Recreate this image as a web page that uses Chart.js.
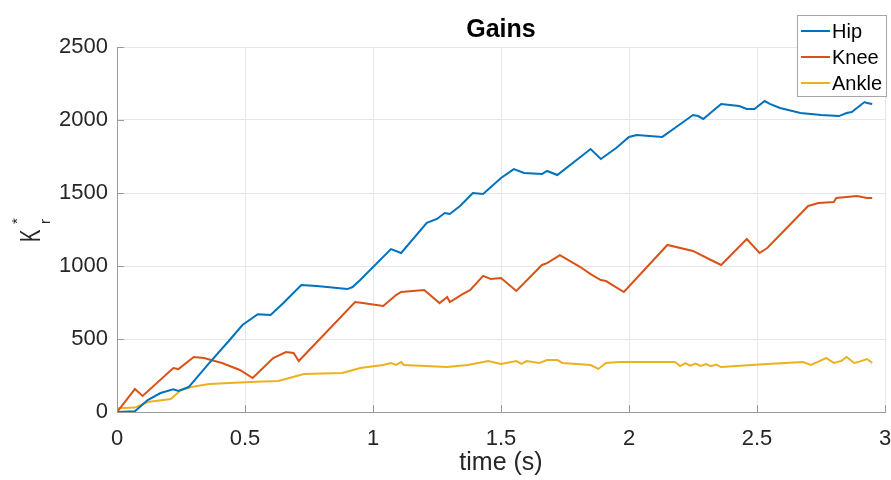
<!DOCTYPE html>
<html>
<head>
<meta charset="utf-8">
<script src="https://cdn.jsdelivr.net/npm/chart.js@4/dist/chart.umd.min.js"></script>
<style>
  html, body { margin: 0; padding: 0; background: #fff; overflow: hidden; }
  #wrap { width: 891px; height: 480px; position: relative; }
  #chart { display: block; }
</style>
</head>
<body>
<div id="wrap"><canvas id="chart"></canvas></div>
<script>
const titleText = 'Gains';
const xLabel = 'time (s)';
const xTicks = [0, 0.5, 1, 1.5, 2, 2.5, 3];
const yTicks = [0, 500, 1000, 1500, 2000, 2500];
const seriesNames = ['Hip', 'Knee', 'Ankle'];

const hipT = [0, 0.07, 0.12, 0.17, 0.22, 0.24, 0.28, 0.36, 0.44, 0.49, 0.55, 0.60, 0.65, 0.72, 0.78, 0.90, 0.92, 0.95, 1.07, 1.11,
  1.21, 1.25, 1.28, 1.30, 1.34, 1.39, 1.43, 1.50, 1.55, 1.59, 1.66, 1.68, 1.72, 1.85, 1.89, 1.95, 2.00, 2.03, 2.13, 2.19,
  2.25, 2.27, 2.29, 2.36, 2.43, 2.46, 2.49, 2.53, 2.55, 2.59, 2.67, 2.75, 2.82, 2.85, 2.87, 2.92, 2.93, 2.95];
const hipK = [0, 5, 82, 130, 155, 144, 171, 335, 493, 596, 670, 664, 747, 870, 863, 842, 856, 904, 1116, 1089,
  1295, 1322, 1363, 1356, 1411, 1500, 1493, 1603, 1664, 1637, 1630, 1651, 1623, 1801, 1733, 1808, 1884, 1897, 1884, 1959,
  2034, 2027, 2007, 2110, 2096, 2075, 2075, 2130, 2110, 2082, 2048, 2034, 2027, 2048, 2055, 2123, 2116, 2110];

const kneeT = [0, 0.07, 0.10, 0.22, 0.24, 0.30, 0.34, 0.41, 0.48, 0.53, 0.61, 0.66, 0.69, 0.71, 0.93, 0.96, 1.04, 1.09, 1.11, 1.20,
  1.26, 1.29, 1.30, 1.35, 1.38, 1.43, 1.46, 1.50, 1.56, 1.66, 1.68, 1.73, 1.81, 1.85, 1.89, 1.91, 1.98, 2.15, 2.25, 2.32,
  2.36, 2.46, 2.51, 2.54, 2.70, 2.74, 2.80, 2.81, 2.89, 2.93, 2.95];
const kneeK = [0, 157, 110, 301, 294, 377, 370, 336, 288, 233, 370, 411, 404, 349, 753, 746, 726, 801, 822, 836,
  746, 788, 753, 808, 836, 932, 911, 918, 829, 1007, 1020, 1075, 993, 945, 904, 897, 822, 1144, 1103, 1041,
  1007, 1185, 1089, 1123, 1411, 1432, 1438, 1466, 1479, 1466, 1466];

const ankleT = [0, 0.07, 0.12, 0.21, 0.25, 0.29, 0.36, 0.52, 0.63, 0.73, 0.88, 0.95, 1.04, 1.07, 1.09, 1.11, 1.12, 1.29, 1.37, 1.45,
  1.50, 1.56, 1.58, 1.60, 1.65, 1.68, 1.72, 1.74, 1.85, 1.88, 1.91, 1.96, 2.18, 2.20, 2.22, 2.24, 2.26, 2.28, 2.30, 2.32,
  2.34, 2.36, 2.54, 2.68, 2.71, 2.74, 2.77, 2.80, 2.83, 2.85, 2.88, 2.90, 2.93, 2.95];
const ankleK = [25, 30, 68, 89, 150, 171, 192, 205, 212, 260, 267, 301, 322, 336, 322, 342, 322, 308, 322, 349,
  329, 349, 329, 349, 336, 356, 356, 336, 322, 295, 336, 342, 342, 315, 335, 318, 332, 315, 328, 314,
  325, 308, 329, 342, 322, 345, 370, 336, 350, 377, 336, 345, 363, 336];

const colors = ['#0072BD', '#D95319', '#EDB120'];
const FONT = '"Liberation Sans", Arial, Helvetica, sans-serif';
const axisGray = '#9a9a9a';

const toPoints = (ts, ks) => ts.map((t, i) => ({ x: t, y: ks[i] }));

// title, axis labels, legend and inward tick marks (matlab look)
const decorations = {
  id: 'decorations',
  afterDraw(chart) {
    const { ctx, chartArea, scales } = chart;
    const cx = (chartArea.left + chartArea.right) / 2;
    ctx.save();

    // tick marks pointing in
    ctx.strokeStyle = axisGray;
    ctx.lineWidth = 1;
    ctx.beginPath();
    yTicks.forEach((v) => {
      const y = Math.round(scales.y.getPixelForValue(v)) + 0.5;
      ctx.moveTo(chartArea.left, y);
      ctx.lineTo(chartArea.left + 7, y);
    });
    xTicks.forEach((v) => {
      const x = Math.round(scales.x.getPixelForValue(v)) + 0.5;
      ctx.moveTo(x, chartArea.bottom);
      ctx.lineTo(x, chartArea.bottom - 7);
    });
    ctx.stroke();

    ctx.fillStyle = '#000';
    ctx.textAlign = 'center';
    ctx.textBaseline = 'alphabetic';
    ctx.font = 'bold 25px ' + FONT;
    ctx.fillText(titleText, cx, 37);

    ctx.fillStyle = '#262626';
    ctx.font = '25px ' + FONT;
    ctx.fillText(xLabel, cx, 470);

    // K_r^* rotated
    ctx.save();
    ctx.translate(40, 242);
    ctx.rotate(-Math.PI / 2);
    ctx.textAlign = 'left';
    ctx.save();
    ctx.scale(0.62, 1);
    ctx.font = '30px ' + FONT;
    ctx.fillText('K', 0, 0);
    ctx.restore();
    ctx.font = '15px ' + FONT;
    ctx.fillText('r', 18, 10);
    ctx.fillText('*', 18, -18);
    ctx.restore();

    // legend
    const bw = 90, bh = 82;
    const bx = chartArea.right + 2 - bw;
    const by = 15;
    ctx.fillStyle = '#fff';
    ctx.fillRect(bx, by, bw, bh);
    ctx.strokeStyle = '#a6a6a6';
    ctx.lineWidth = 1;
    ctx.strokeRect(bx + 0.5, by + 0.5, bw - 1, bh - 1);
    ctx.font = '20px ' + FONT;
    ctx.textAlign = 'left';
    ctx.textBaseline = 'middle';
    chart.data.datasets.forEach((ds, i) => {
      const yy = by + 16 + i * 26;
      ctx.strokeStyle = ds.borderColor;
      ctx.lineWidth = 2;
      ctx.beginPath();
      ctx.moveTo(bx + 4, yy);
      ctx.lineTo(bx + 33, yy);
      ctx.stroke();
      ctx.fillStyle = '#000';
      ctx.fillText(ds.label, bx + 35, yy + 1);
    });
    ctx.restore();
  },
};

new Chart(document.getElementById('chart'), {
  type: 'line',
  data: {
    datasets: [
      { label: seriesNames[0], data: toPoints(hipT, hipK), borderColor: colors[0] },
      { label: seriesNames[1], data: toPoints(kneeT, kneeK), borderColor: colors[1] },
      { label: seriesNames[2], data: toPoints(ankleT, ankleK), borderColor: colors[2] },
    ],
  },
  options: {
    responsive: true,
    maintainAspectRatio: false,
    animation: false,
    layout: { padding: { top: 47, right: 6, bottom: 0, left: 0 } },
    elements: {
      point: { radius: 0 },
      line: { borderWidth: 2, tension: 0, fill: false },
    },
    scales: {
      x: {
        type: 'linear',
        min: 0,
        max: 3,
        afterBuildTicks: (scale) => { scale.ticks = xTicks.map((v) => ({ value: v })); },
        afterFit: (scale) => {
          scale.height = 68;
          // tick padding is also added sideways by chart.js, undo that
          scale.paddingLeft = 6;
          scale.paddingRight = 6;
        },
        grid: { color: '#e6e6e6', drawTicks: false },
        border: { color: axisGray, width: 1 },
        ticks: {
          padding: 14,
          color: '#262626',
          font: { family: FONT, size: 22 },
          maxRotation: 0,
          callback: (v) => String(v),
        },
      },
      y: {
        min: 0,
        max: 2500,
        afterBuildTicks: (scale) => { scale.ticks = yTicks.map((v) => ({ value: v })); },
        afterFit: (scale) => { scale.width = 117; },
        grid: { color: '#e6e6e6', drawTicks: false },
        border: { color: axisGray, width: 1 },
        ticks: {
          padding: 9,
          color: '#262626',
          font: { family: FONT, size: 22 },
          callback: (v) => String(v),
        },
      },
    },
    plugins: {
      legend: { display: false },
      title: { display: false },
      tooltip: { enabled: false },
    },
  },
  plugins: [decorations],
});
</script>
</body>
</html>
